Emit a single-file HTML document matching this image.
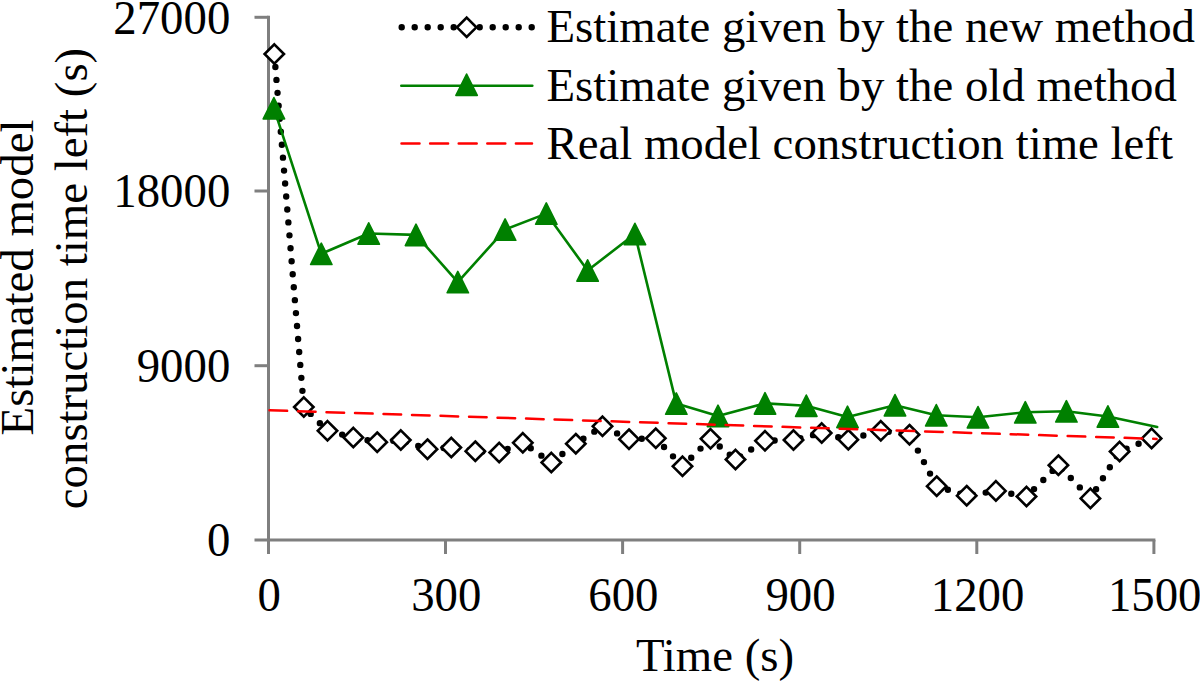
<!DOCTYPE html>
<html><head><meta charset="utf-8"><style>
html,body{margin:0;padding:0;background:#fff;}
body{width:1200px;height:682px;overflow:hidden;}
svg{display:block;}
text{font-family:"Liberation Serif",serif;font-size:46.8px;fill:#000;}
</style></head><body>
<svg width="1200" height="682" viewBox="0 0 1200 682">
<rect width="1200" height="682" fill="#fff"/>

<g stroke="#7f7f7f" stroke-width="3" fill="none" stroke-linecap="butt">
<path d="M268.5,15.8 V554"/>
<path d="M254.5,540 H1155.4"/>
<path d="M254.5,365.7 H268.5"/>
<path d="M254.5,191 H268.5"/>
<path d="M254.5,17.3 H268.5"/>
<path d="M445.5,540 V554"/>
<path d="M622.6,540 V554"/>
<path d="M799.7,540 V554"/>
<path d="M976.8,540 V554"/>
<path d="M1153.9,540 V554"/>
</g>
<text transform="translate(230.3,556.2) scale(1,1.045)" text-anchor="end">0</text>
<text transform="translate(230.3,381.9) scale(1,1.045)" text-anchor="end">9000</text>
<text transform="translate(230.3,207.2) scale(1,1.045)" text-anchor="end">18000</text>
<text transform="translate(230.3,33.5) scale(1,1.045)" text-anchor="end">27000</text>
<text transform="translate(269.2,610.6) scale(1,1.045)" text-anchor="middle">0</text>
<text transform="translate(446.3,610.6) scale(1,1.045)" text-anchor="middle">300</text>
<text transform="translate(623.4,610.6) scale(1,1.045)" text-anchor="middle">600</text>
<text transform="translate(800.5,610.6) scale(1,1.045)" text-anchor="middle">900</text>
<text transform="translate(977.6,610.6) scale(1,1.045)" text-anchor="middle">1200</text>
<text transform="translate(1154.7,610.6) scale(1,1.045)" text-anchor="middle">1500</text>
<text x="715" y="671" text-anchor="middle">Time (s)</text>
<text transform="translate(33,277.5) rotate(-90)" text-anchor="middle">Estimated model</text>
<text transform="translate(87,278.5) rotate(-90)" text-anchor="middle">construction time left (s)</text>
<polyline points="274.3,54.0 303.8,407.0 327.5,430.8 353.3,437.5 377.2,442.2 400.8,440.0 427.5,449.2 451.3,447.5 475.3,451.2 499.2,452.5 522.8,442.8 551.3,462.5 575.8,443.7 602.5,426.3 629.0,439.2 655.8,438.3 682.5,466.3 710.5,438.8 735.5,459.5 765.0,440.8 793.5,440.0 821.7,433.0 848.3,439.7 880.8,430.8 909.5,434.7 936.7,486.2 966.7,495.7 995.9,490.9 1026.5,496.5 1058.4,465.2 1090.4,498.4 1119.6,451.5 1151.6,438.4" stroke="#000" stroke-width="6.4" stroke-dasharray="0 13" stroke-linecap="round" fill="none" stroke-linejoin="round"/>
<g fill="#fff" stroke="#000" stroke-width="2.6" stroke-linejoin="miter">
<polygon points="274.3,44.3 284.0,54.0 274.3,63.7 264.6,54.0"/>
<polygon points="303.8,397.3 313.5,407.0 303.8,416.7 294.1,407.0"/>
<polygon points="327.5,421.1 337.2,430.8 327.5,440.5 317.8,430.8"/>
<polygon points="353.3,427.8 363.0,437.5 353.3,447.2 343.6,437.5"/>
<polygon points="377.2,432.5 386.9,442.2 377.2,451.9 367.5,442.2"/>
<polygon points="400.8,430.3 410.5,440.0 400.8,449.7 391.1,440.0"/>
<polygon points="427.5,439.5 437.2,449.2 427.5,458.9 417.8,449.2"/>
<polygon points="451.3,437.8 461.0,447.5 451.3,457.2 441.6,447.5"/>
<polygon points="475.3,441.5 485.0,451.2 475.3,460.9 465.6,451.2"/>
<polygon points="499.2,442.8 508.9,452.5 499.2,462.2 489.5,452.5"/>
<polygon points="522.8,433.1 532.5,442.8 522.8,452.5 513.1,442.8"/>
<polygon points="551.3,452.8 561.0,462.5 551.3,472.2 541.6,462.5"/>
<polygon points="575.8,434.0 585.5,443.7 575.8,453.4 566.1,443.7"/>
<polygon points="602.5,416.6 612.2,426.3 602.5,436.0 592.8,426.3"/>
<polygon points="629.0,429.5 638.7,439.2 629.0,448.9 619.3,439.2"/>
<polygon points="655.8,428.6 665.5,438.3 655.8,448.0 646.1,438.3"/>
<polygon points="682.5,456.6 692.2,466.3 682.5,476.0 672.8,466.3"/>
<polygon points="710.5,429.1 720.2,438.8 710.5,448.5 700.8,438.8"/>
<polygon points="735.5,449.8 745.2,459.5 735.5,469.2 725.8,459.5"/>
<polygon points="765.0,431.1 774.7,440.8 765.0,450.5 755.3,440.8"/>
<polygon points="793.5,430.3 803.2,440.0 793.5,449.7 783.8,440.0"/>
<polygon points="821.7,423.3 831.4,433.0 821.7,442.7 812.0,433.0"/>
<polygon points="848.3,430.0 858.0,439.7 848.3,449.4 838.6,439.7"/>
<polygon points="880.8,421.1 890.5,430.8 880.8,440.5 871.1,430.8"/>
<polygon points="909.5,425.0 919.2,434.7 909.5,444.4 899.8,434.7"/>
<polygon points="936.7,476.5 946.4,486.2 936.7,495.9 927.0,486.2"/>
<polygon points="966.7,486.0 976.4,495.7 966.7,505.4 957.0,495.7"/>
<polygon points="995.9,481.2 1005.6,490.9 995.9,500.6 986.2,490.9"/>
<polygon points="1026.5,486.8 1036.2,496.5 1026.5,506.2 1016.8,496.5"/>
<polygon points="1058.4,455.5 1068.1,465.2 1058.4,474.9 1048.7,465.2"/>
<polygon points="1090.4,488.7 1100.1,498.4 1090.4,508.1 1080.7,498.4"/>
<polygon points="1119.6,441.8 1129.3,451.5 1119.6,461.2 1109.9,451.5"/>
<polygon points="1151.6,428.7 1161.3,438.4 1151.6,448.1 1141.9,438.4"/>
</g>
<polyline points="273.9,108.2 321.3,253.8 368.7,233.5 416.0,234.9 457.8,282.1 505.1,229.6 546.3,213.6 587.6,270.5 634.9,234.0 676.3,403.6 718.0,415.9 765.0,403.4 806.3,405.7 847.5,416.9 895.0,405.2 936.3,415.2 978.0,417.2 1025.3,412.3 1066.4,411.3 1107.9,416.5 1157.2,426.9" stroke="#008000" stroke-width="2.6" fill="none" stroke-linejoin="round" stroke-linecap="round"/>
<g fill="#008000" stroke="#008000" stroke-width="1.6" stroke-linejoin="round">
<polygon points="273.9,97.5 284.6,118.9 263.2,118.9"/>
<polygon points="321.3,243.1 332.0,264.5 310.6,264.5"/>
<polygon points="368.7,222.8 379.4,244.2 358.0,244.2"/>
<polygon points="416.0,224.2 426.7,245.6 405.3,245.6"/>
<polygon points="457.8,271.4 468.5,292.8 447.1,292.8"/>
<polygon points="505.1,218.9 515.8,240.3 494.4,240.3"/>
<polygon points="546.3,202.9 557.0,224.3 535.6,224.3"/>
<polygon points="587.6,259.8 598.3,281.2 576.9,281.2"/>
<polygon points="634.9,223.3 645.6,244.7 624.2,244.7"/>
<polygon points="676.3,392.9 687.0,414.3 665.6,414.3"/>
<polygon points="718.0,405.2 728.7,426.6 707.3,426.6"/>
<polygon points="765.0,392.7 775.7,414.1 754.3,414.1"/>
<polygon points="806.3,395.0 817.0,416.4 795.6,416.4"/>
<polygon points="847.5,406.2 858.2,427.6 836.8,427.6"/>
<polygon points="895.0,394.5 905.7,415.9 884.3,415.9"/>
<polygon points="936.3,404.5 947.0,425.9 925.6,425.9"/>
<polygon points="978.0,406.5 988.7,427.9 967.3,427.9"/>
<polygon points="1025.3,401.6 1036.0,423.0 1014.6,423.0"/>
<polygon points="1066.4,400.6 1077.1,422.0 1055.7,422.0"/>
<polygon points="1107.9,405.8 1118.6,427.2 1097.2,427.2"/>
</g>
<path d="M269.5,410.3 L1156.6,438.9" stroke="#ff0000" stroke-width="2.5" stroke-dasharray="17.6 10.92" stroke-linecap="round" fill="none"/>
<path d="M401.7,27.3 H534" stroke="#000" stroke-width="6.4" stroke-dasharray="0 13" stroke-linecap="round"/>
<g fill="#fff" stroke="#000" stroke-width="2.6"><polygon points="466.7,17.6 476.4,27.3 466.7,37.0 457.0,27.3"/></g>
<path d="M401.3,85.7 H532.3" stroke="#008000" stroke-width="2.6" stroke-linecap="round"/>
<g fill="#008000" stroke="#008000" stroke-width="1.6" stroke-linejoin="round"><polygon points="466.6,74.0 477.3,95.4 455.9,95.4"/></g>
<path d="M401.5,143.6 H532" stroke="#ff0000" stroke-width="2.5" stroke-dasharray="18 10.6" stroke-linecap="round"/>
<text x="546.5" y="42">Estimate given by the new method</text>
<text x="546.5" y="100.8">Estimate given by the old method</text>
<text x="546.5" y="159.3">Real model construction time left</text>
</svg></body></html>
